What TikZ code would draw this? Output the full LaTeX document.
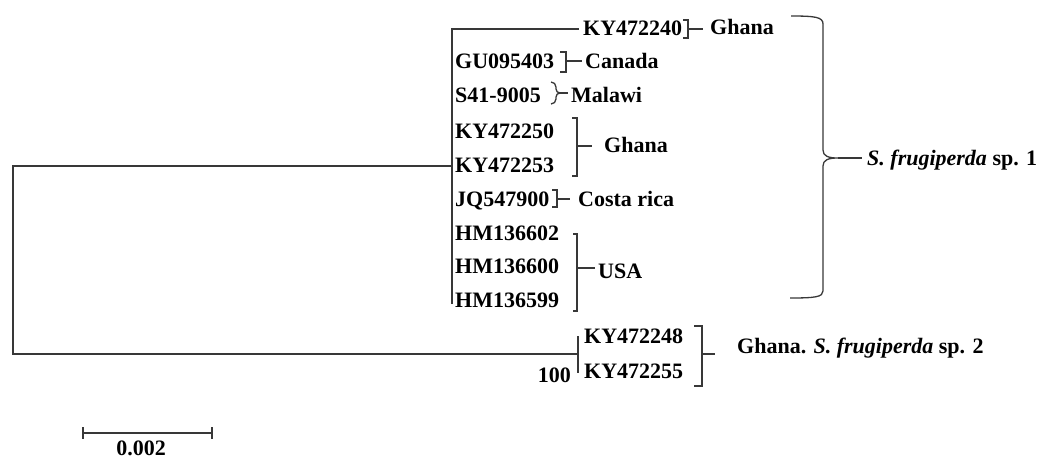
\documentclass[tikz,border=0pt]{standalone}
\usepackage{fontspec}
\setmainfont{Liberation Serif}
\begin{document}
\begin{tikzpicture}[x=1pt,y=-1pt,
  lab/.style={font=\fontsize{22}{26}\selectfont\bfseries, inner sep=0pt, anchor=base west, text=black},
  tree/.style={draw=black!78, line width=1.4pt, line cap=rect},
  brk/.style={draw=black!78, line width=1.3pt}]
\useasboundingbox (0,0) rectangle (1042,459);
% taxa
\node[lab] (t1) at (583,35) {KY472240};
\node[lab] (t2) at (455,68) {GU095403};
\node[lab] (t3) at (455,102) {S41-9005};
\node[lab] (t4) at (455,138) {KY472250};
\node[lab] (t5) at (455,172) {KY472253};
\node[lab] (t6) at (455,206) {JQ547900};
\node[lab] (t7) at (455,240) {HM136602};
\node[lab] (t8) at (455,273) {HM136600};
\node[lab] (t9) at (455,307) {HM136599};
\node[lab] (t10) at (584,343) {KY472248};
\node[lab] (t11) at (584,378) {KY472255};
\node[lab, anchor=base east] (bs) at (571,382) {100};
% countries
\node[lab] (c1) at (710,34) {Ghana};
\node[lab] (c2) at (585,68) {Canada};
\node[lab] (c3) at (571,102) {Malawi};
\node[lab] (c4) at (604,152) {Ghana};
\node[lab] (c5) at (578,206) {Costa rica};
\node[lab] (c6) at (598,278) {USA};
\node[lab] (g1) at (867,165) {\textit{S. frugiperda} sp. 1};
\node[lab] (g2) at (737,353) {Ghana. \textit{S. frugiperda} sp. 2};
\node[lab, anchor=base] (sc) at (141,455) {0.002};
% tree
\coordinate (r1) at (13,166);
\coordinate (r2) at (13,354);
\coordinate (n1) at (452,166);
\coordinate (n1t) at (452,29);
\coordinate (n1b) at (452,303);
\coordinate (l1) at (578,29);
\coordinate (n2) at (578,354);
\coordinate (n2t) at (578,337);
\coordinate (n2b) at (578,372);
\draw[tree] (n1) -- (r1) -- (r2) -- (n2);
\draw[tree] (l1) -- (n1t) -- (n1b);
\draw[tree] (n2t) -- (n2b);
% brackets
\draw[brk] (683,20) -- (688,20) -- (688,38) -- (683,38);
\draw[brk] (688,29) -- (703,29);
\draw[brk] (560,52) -- (566,52) -- (566,72) -- (560,72);
\draw[brk] (566,61) -- (582,61);
\draw[brk] (551,82) to[out=0,in=90] (556,87) -- (556,89) to[out=-90,in=180] (560,93) to[out=180,in=90] (556,97) -- (556,99) to[out=-90,in=0] (551,104);
\draw[brk] (560,93) -- (568,93);
\draw[brk] (572,118) -- (577,118) -- (577,176) -- (572,176);
\draw[brk] (577,146) -- (592,146);
\draw[brk] (552,190) -- (557,190) -- (557,207) -- (552,207);
\draw[brk] (557,199) -- (570,199);
\draw[brk] (573,234) -- (577,234) -- (577,311) -- (573,311);
\draw[brk] (577,268) -- (595,268);
\draw[brk] (694,326) -- (702,326) -- (702,386) -- (694,386);
\draw[brk] (702,354) -- (715,354);
% big brace
\draw[brk] (791,16) .. controls (815,16) and (823,17) .. (823,24) -- (823,150) .. controls (823,156) and (828,158) .. (838,158) .. controls (828,158) and (823,160) .. (823,166) -- (823,291) .. controls (823,297) and (815,298) .. (790,298);
\draw[brk] (838,158) -- (862,158);
% scale bar
\draw[brk] (83,433) -- (212,433);
\draw[brk] (83,427) -- (83,439);
\draw[brk] (212,427) -- (212,439);
\end{tikzpicture}
\end{document}
